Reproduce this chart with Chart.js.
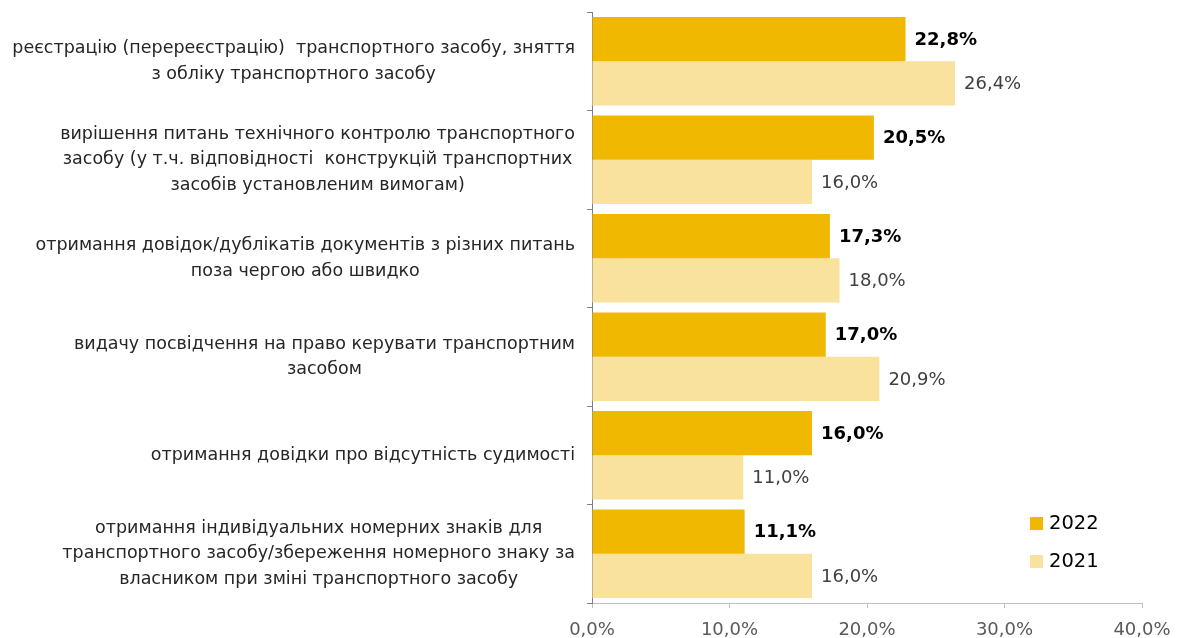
<!DOCTYPE html>
<html>
<head>
<meta charset="utf-8">
<style>
  html, body { margin: 0; padding: 0; background: #fff; }
  #wrap { width: 1179px; height: 638px; }
</style>
<script src="https://cdn.jsdelivr.net/npm/chart.js"></script>
</head>
<body>
<div id="wrap"><canvas id="chart"></canvas></div>
<script>
// категорії (кожен рядок підпису окремо)
var categories = [
    ['реєстрацію (перереєстрацію)  транспортного засобу, зняття', 'з обліку транспортного засобу'],
    ['вирішення питань технічного контролю транспортного', 'засобу (у т.ч. відповідності  конструкцій транспортних', 'засобів установленим вимогам)'],
    ['отримання довідок/дублікатів документів з різних питань', 'поза чергою або швидко'],
    ['видачу посвідчення на право керувати транспортним', 'засобом'],
    ['отримання довідки про відсутність судимості'],
    ['отримання індивідуальних номерних знаків для', 'транспортного засобу/збереження номерного знаку за', 'власником при зміні транспортного засобу']
];
var values2022 = [22.8, 20.5, 17.3, 17.0, 16.0, 11.1];
var values2021 = [26.4, 16.0, 18.0, 20.9, 11.0, 16.0];
var seriesNames = ['2022', '2021'];
var xTicks = [0, 10, 20, 30, 40];

var FONT = 'Tahoma, "DejaVu Sans", sans-serif';
var COL_2022 = '#F0B800';
var COL_2021 = '#F9E29D';

function fmt(v) {
    return v.toFixed(1).replace('.', ',') + '%';
}

// підписи категорій: рядки центровані між собою, блок вирівняний праворуч
var catLabels = {
    id: 'catLabels',
    afterDraw: function(chart) {
        var ctx = chart.ctx;
        var y = chart.scales.y;
        ctx.save();
        ctx.font = '17.5px ' + FONT;
        ctx.fillStyle = '#262626';
        ctx.textBaseline = 'middle';
        ctx.textAlign = 'center';
        categories.forEach(function(lines, i) {
            var cy = y.getPixelForValue(i);
            var w = 0;
            lines.forEach(function(l) { w = Math.max(w, ctx.measureText(l).width); });
            var cx = 575 - w / 2;
            var lh = 25.5;
            var top = cy - (lines.length - 1) * lh / 2;
            lines.forEach(function(l, k) {
                ctx.fillText(l, cx, top + k * lh);
            });
        });
        ctx.restore();
    }
};

// значення праворуч від стовпчиків
var valueLabels = {
    id: 'valueLabels',
    afterDatasetsDraw: function(chart) {
        var ctx = chart.ctx;
        ctx.save();
        ctx.textBaseline = 'middle';
        ctx.textAlign = 'left';
        chart.data.datasets.forEach(function(ds, di) {
            var meta = chart.getDatasetMeta(di);
            ctx.font = (di === 0 ? 'bold ' : '') + '18px ' + FONT;
            ctx.fillStyle = di === 0 ? '#000000' : '#404040';
            meta.data.forEach(function(bar, i) {
                ctx.fillText(fmt(ds.data[i]), bar.x + 9, bar.y + 1);
            });
        });
        ctx.restore();
    }
};

// легенда всередині області графіка
var legendBox = {
    id: 'legendBox',
    afterDraw: function(chart) {
        var ctx = chart.ctx;
        var cols = [COL_2022, COL_2021];
        ctx.save();
        ctx.font = '19.5px ' + FONT;
        ctx.textBaseline = 'middle';
        ctx.textAlign = 'left';
        seriesNames.forEach(function(n, i) {
            var cy = 523 + i * 38;
            ctx.fillStyle = cols[i];
            ctx.fillRect(1030, cy - 6, 13, 13);
            ctx.fillStyle = '#000';
            ctx.fillText(n, 1049, cy + 1);
        });
        ctx.restore();
    }
};

new Chart(document.getElementById('chart'), {
    type: 'bar',
    data: {
        labels: categories.map(function(c) { return c.join(' '); }),
        datasets: [
            { label: seriesNames[0], data: values2022, backgroundColor: COL_2022, categoryPercentage: 0.9, barPercentage: 1.0 },
            { label: seriesNames[1], data: values2021, backgroundColor: COL_2021, categoryPercentage: 0.9, barPercentage: 1.0 }
        ]
    },
    options: {
        indexAxis: 'y',
        responsive: true,
        maintainAspectRatio: false,
        animation: false,
        layout: { padding: { top: 12, right: 37, left: 0, bottom: 0 } },
        plugins: {
            legend: { display: false },
            tooltip: { enabled: false }
        },
        scales: {
            x: {
                min: 0,
                max: 40,
                afterBuildTicks: function(scale) {
                    scale.ticks = xTicks.map(function(v) { return { value: v }; });
                },
                afterFit: function(scale) {
                    scale.height = 35;
                    scale.paddingLeft = 0;
                    scale.paddingRight = 0;
                },
                grid: { drawOnChartArea: false, drawTicks: true, tickLength: 5, color: '#BFBFBF' },
                border: { color: '#BFBFBF', width: 1 },
                ticks: {
                    color: '#595959',
                    font: { family: FONT, size: 18 },
                    padding: 12,
                    maxRotation: 0,
                    callback: function(v) { return fmt(v); }
                }
            },
            y: {
                offset: true,
                afterFit: function(scale) { scale.width = 592; },
                grid: { offset: true, drawOnChartArea: false, drawTicks: true, tickLength: 5, color: '#808080' },
                border: { color: '#808080', width: 1 },
                ticks: { display: false }
            }
        }
    },
    plugins: [catLabels, valueLabels, legendBox]
});
</script>
</body>
</html>
